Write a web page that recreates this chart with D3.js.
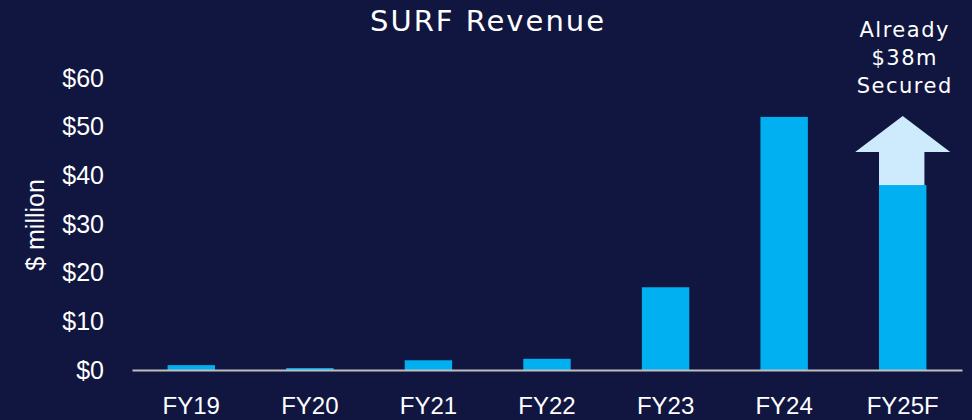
<!DOCTYPE html>
<html><head><meta charset="utf-8">
<script src="https://cdn.jsdelivr.net/npm/d3@7"></script>
<style>
html,body{margin:0;padding:0;background:#111640;}
svg{display:block;}
</style></head>
<body>
<script>
const categories = ["FY19","FY20","FY21","FY22","FY23","FY24","FY25F"];
const revenue = [1.0, 0.4, 2.0, 2.3, 17.0, 52.0, 38.0];
const yTicks = [0,10,20,30,40,50,60];
const arrowCategory = "FY25F";
const arrowFrom = 37;
const arrowTo = 52.2;
const annotationLines = ["Already","$38m","Secured"];
const title = "SURF Revenue";
const yLabel = "$ million";

const W = 972, H = 420;
const svg = d3.select("body").append("svg").attr("width",W).attr("height",H);
svg.append("rect").attr("width",W).attr("height",H).attr("fill","#111640");

const x = d3.scaleBand().domain(categories).range([132,962]).paddingInner(0.6).paddingOuter(0.3);
const y = d3.scaleLinear().domain([0,60]).range([370,78]);

const sans = "'Liberation Sans', Arial, sans-serif";
const gothic = "'DejaVu Sans', sans-serif";

// title
svg.append("text").attr("x",488).attr("y",31).attr("text-anchor","middle")
  .attr("fill","#fff").attr("font-family",gothic).attr("font-weight",400)
  .attr("letter-spacing",2)
  .attr("font-size",29).text(title);

// y-axis label
svg.append("text").attr("transform","translate(44,225) rotate(-90)")
  .attr("text-anchor","middle").attr("fill","#fff")
  .attr("font-family",sans).attr("font-size",25).text(yLabel);

// y-axis tick labels via axis
const yAxis = svg.append("g").attr("transform","translate(104,0)")
  .call(d3.axisLeft(y).tickValues(yTicks).tickSize(0).tickPadding(0).tickFormat(d=>"$"+d));
yAxis.select(".domain").remove();
yAxis.selectAll("text").attr("fill","#fff").attr("font-size",25)
  .attr("font-family",sans);

// arrow
const ax0 = x(arrowCategory), bw = x.bandwidth(), acx = ax0 + bw/2;
const headW = 95/2;
const tipY = y(arrowTo), baseY = tipY + 36, botY = y(arrowFrom);
const shaftL = ax0, shaftR = ax0 + bw - 2;
svg.append("path").attr("fill","#cdebfc")
  .attr("d",`M${acx},${tipY} L${acx+headW},${baseY} L${shaftR},${baseY} L${shaftR},${botY} L${shaftL},${botY} L${shaftL},${baseY} L${acx-headW},${baseY} Z`);

// bars
svg.append("g").selectAll("rect").data(categories).join("rect")
  .attr("x",d=>x(d)).attr("width",x.bandwidth())
  .attr("y",(d,i)=>y(revenue[i])).attr("height",(d,i)=>y(0)-y(revenue[i]))
  .attr("fill","#00b0f0");

// x axis
const xAxis = svg.append("g").attr("transform","translate(0,370)")
  .call(d3.axisBottom(x).tickSize(0).tickPadding(27));
xAxis.select(".domain").attr("stroke","#bfbfbf").attr("stroke-width",2);
xAxis.selectAll("text").attr("fill","#fff").attr("font-size",24)
  .attr("font-family",sans);

// annotation
const ann = svg.append("text").attr("text-anchor","middle").attr("fill","#fff")
  .attr("font-family",gothic).attr("font-weight",400).attr("letter-spacing",1.5).attr("font-size",21);
annotationLines.forEach((t,i)=>{
  ann.append("tspan").attr("x",acx+2).attr("y",37+i*28).text(t);
});
</script>
</body></html>
